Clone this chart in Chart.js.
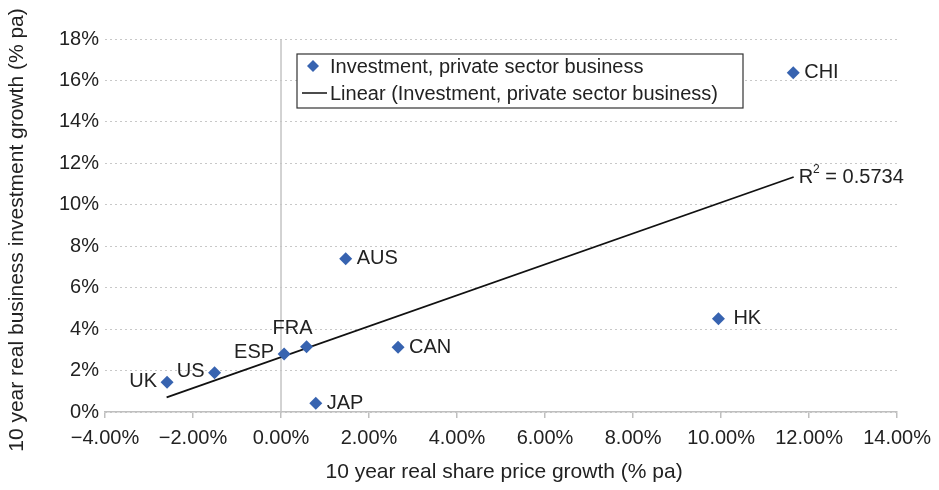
<!DOCTYPE html>
<html lang="en">
<head>
    <meta charset="UTF-8">
    <title>Share price vs business investment</title>
    <script src="https://cdn.jsdelivr.net/npm/chart.js"></script>
    <style>
        html, body { margin: 0; padding: 0; background: #fff; }
        #wrap { width: 939px; height: 490px; }
    </style>
</head>
<body>
    <div id="wrap"><canvas id="scatterChart" width="939" height="490"></canvas></div>
    <script>
        // data (% pa)
        var countries = ['UK', 'US', 'ESP', 'FRA', 'JAP', 'AUS', 'CAN', 'HK', 'CHI'];
        var sharePriceGrowth = [-2.59, -1.51, 0.07, 0.58, 0.79, 1.47, 2.66, 9.94, 11.64];
        var investmentGrowth = [1.43, 1.89, 2.80, 3.15, 0.42, 7.39, 3.13, 4.50, 16.37];
        var trendX = [-2.60, 11.65];
        var trendY = [0.71, 11.34];
        var rSquared = '0.5734';

        var FONT = '"Liberation Sans", Arial, sans-serif';
        var TEXT = '#222';
        var BLUE = '#3763b0';

        var points = countries.map(function (c, i) {
            return { x: sharePriceGrowth[i], y: investmentGrowth[i] };
        });
        var trend = trendX.map(function (x, i) { return { x: x, y: trendY[i] }; });

        // where each country label sits relative to its marker
        var labelPlace = { UK: 'left', US: 'left', ESP: 'left', FRA: 'above', HK: 'farright' };

        var extras = {
            id: 'extras',
            beforeDatasetsDraw: function (chart) {
                var ctx = chart.ctx, a = chart.chartArea;
                var x0 = chart.scales.x.getPixelForValue(0);
                ctx.save();
                ctx.strokeStyle = '#c4c4c4';
                ctx.lineWidth = 1.5;
                ctx.beginPath();
                ctx.moveTo(x0, a.top);
                ctx.lineTo(x0, a.bottom);
                ctx.stroke();
                ctx.restore();
            },
            afterDatasetsDraw: function (chart) {
                var ctx = chart.ctx, a = chart.chartArea;
                var meta = chart.getDatasetMeta(0);
                ctx.save();
                ctx.font = '20px ' + FONT;
                ctx.fillStyle = TEXT;
                ctx.textBaseline = 'middle';
                meta.data.forEach(function (pt, i) {
                    var name = countries[i];
                    var place = labelPlace[name] || 'right';
                    if (place === 'left') {
                        ctx.textAlign = 'right';
                        ctx.fillText(name, pt.x - 10, pt.y - 1);
                    } else if (place === 'above') {
                        ctx.textAlign = 'center';
                        ctx.fillText(name, pt.x - 14, pt.y - 18);
                    } else if (place === 'farright') {
                        ctx.textAlign = 'left';
                        ctx.fillText(name, pt.x + 15, pt.y);
                    } else {
                        ctx.textAlign = 'left';
                        ctx.fillText(name, pt.x + 11, pt.y);
                    }
                });

                // R squared next to the end of the trend line
                var tm = chart.getDatasetMeta(1).data;
                var end = tm[tm.length - 1];
                var tx = end.x + 5, ty = end.y;
                ctx.textAlign = 'left';
                ctx.fillText('R', tx, ty);
                var w = ctx.measureText('R').width;
                ctx.font = '12px ' + FONT;
                ctx.fillText('2', tx + w, ty - 7);
                var w2 = ctx.measureText('2').width;
                ctx.font = '20px ' + FONT;
                ctx.fillText(' = ' + rSquared, tx + w + w2, ty);

                // legend box
                var lx = 297, ly = 54, lw = 446, lh = 54;
                ctx.fillStyle = '#fff';
                ctx.fillRect(lx, ly, lw, lh);
                ctx.strokeStyle = '#333';
                ctx.lineWidth = 1.2;
                ctx.strokeRect(lx, ly, lw, lh);
                var ds = chart.data.datasets;
                ctx.fillStyle = BLUE;
                ctx.beginPath();
                ctx.moveTo(313, 60); ctx.lineTo(319, 66); ctx.lineTo(313, 72); ctx.lineTo(307, 66);
                ctx.closePath();
                ctx.fill();
                ctx.strokeStyle = '#111';
                ctx.lineWidth = 1.5;
                ctx.beginPath();
                ctx.moveTo(302, 93); ctx.lineTo(327, 93);
                ctx.stroke();
                ctx.fillStyle = TEXT;
                ctx.fillText(ds[0].label, 330, 67);
                ctx.fillText(ds[1].label, 330, 94);

                // axis titles
                ctx.font = '21px ' + FONT;
                ctx.textAlign = 'center';
                ctx.fillText('10 year real share price growth (% pa)', (a.left + a.right) / 2 + 3, 472);
                ctx.translate(17, 230);
                ctx.rotate(-Math.PI / 2);
                ctx.fillText('10 year real business investment growth (% pa)', 0, 0);
                ctx.restore();
            }
        };

        var chart = new Chart(document.getElementById('scatterChart'), {
            type: 'scatter',
            data: {
                datasets: [{
                    label: 'Investment, private sector business',
                    data: points,
                    pointStyle: 'rectRot',
                    pointRadius: 6.5,
                    backgroundColor: BLUE,
                    borderColor: BLUE,
                    borderWidth: 0
                }, {
                    label: 'Linear (Investment, private sector business)',
                    type: 'line',
                    data: trend,
                    borderColor: '#111',
                    borderWidth: 1.8,
                    pointRadius: 0,
                    fill: false
                }]
            },
            options: {
                responsive: false,
                animation: false,
                layout: { padding: { left: 0, right: 39, top: 39, bottom: 0 } },
                plugins: { legend: { display: false }, tooltip: { enabled: false } },
                scales: {
                    x: {
                        type: 'linear',
                        min: -4, max: 14,
                        ticks: {
                            stepSize: 2,
                            padding: 8,
                            color: TEXT,
                            font: { family: FONT, size: 20 },
                            callback: function (v) {
                                return (v < 0 ? '\u2212' : '') + Math.abs(v).toFixed(2) + '%';
                            }
                        },
                        grid: { drawOnChartArea: false, drawTicks: true, tickLength: 6, color: '#bfbfbf', lineWidth: 1.5 },
                        border: { color: '#bfbfbf', width: 1.5 },
                        afterFit: function (s) { s.height = 78; }
                    },
                    y: {
                        min: 0, max: 18,
                        ticks: {
                            stepSize: 2,
                            padding: 6,
                            color: TEXT,
                            font: { family: FONT, size: 20 },
                            callback: function (v) { return v + '%'; }
                        },
                        grid: { color: '#c8c8c8', lineWidth: 1, drawTicks: false },
                        border: { display: false, dash: [2, 3] },
                        afterFit: function (s) { s.width = 105; }
                    }
                }
            },
            plugins: [extras]
        });
    </script>
</body>
</html>
